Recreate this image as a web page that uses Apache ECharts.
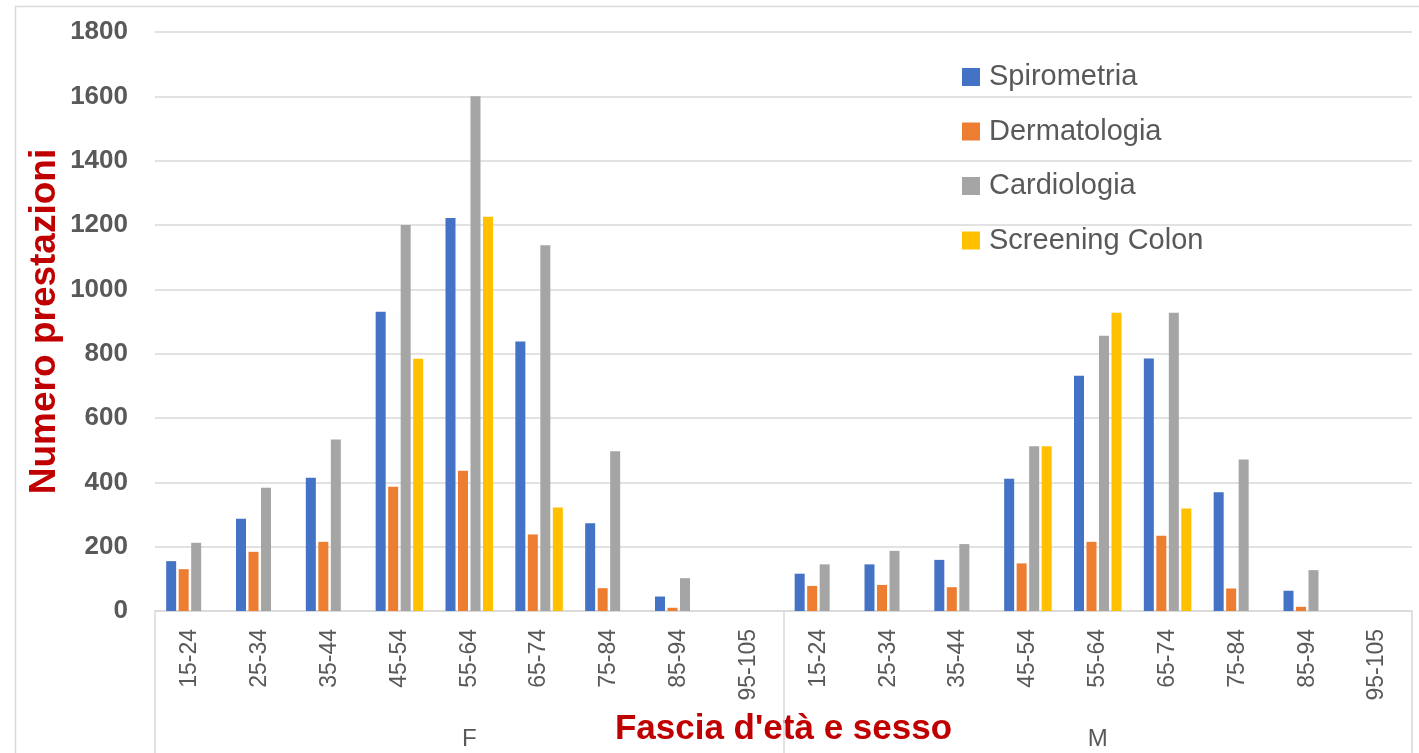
<!DOCTYPE html>
<html>
<head>
<meta charset="utf-8">
<script src="https://cdn.jsdelivr.net/npm/echarts@6/dist/echarts.min.js"></script>
<style>html,body{margin:0;padding:0;background:#fff;}#chart{width:1419px;height:753px;}</style>
</head>
<body>
<div id="chart"></div>
<script>
const ageLabels = ['15-24','25-34','35-44','45-54','55-64','65-74','75-84','85-94','95-105'];
const sexGroups = ['F','M'];
const categories = sexGroups.flatMap(() => ageLabels);
const yTicks = {min: 0, max: 1800, interval: 200};

const spirometria   = [155, 287, 414, 930, 1222, 838, 273, 45, 0,   116, 145, 159, 411, 731, 785, 369, 63, 0];
const dermatologia  = [130, 184, 215, 386, 436, 238, 71, 10, 0,     78, 81, 74, 148, 215, 234, 70, 13, 0];
const cardiologia   = [212, 383, 533, 1200, 1600, 1137, 497, 102, 0, 145, 187, 208, 512, 856, 927, 471, 127, 0];
const screeningColon= [0, 0, 0, 784, 1226, 322, 0, 0, 0,           0, 0, 0, 512, 927, 319, 0, 0, 0];

const seriesNames = ['Spirometria','Dermatologia','Cardiologia','Screening Colon'];
const seriesData = [spirometria, dermatologia, cardiologia, screeningColon];
const colors = ['#4472C4','#ED7D31','#A5A5A5','#FFC000'];

const chart = echarts.init(document.getElementById('chart'), null, {renderer: 'canvas'});
chart.setOption({
  animation: false,
  backgroundColor: '#fff',
  color: colors,
  graphic: [{
    type: 'rect', silent: true,
    shape: {x: 15.5, y: 6.5, width: 1420, height: 760},
    style: {fill: 'none', stroke: '#d9d9d9', lineWidth: 1.5}
  }],
  grid: {left: 155, right: 7, top: 32, bottom: 142, containLabel: false},
  legend: {
    orient: 'vertical', left: 957, top: 57,
    itemWidth: 18, itemHeight: 18, itemGap: 24.5,
    icon: 'rect',
    textStyle: {fontFamily: 'Liberation Sans', fontSize: 29, color: '#595959', lineHeight: 30, padding: [0,0,0,4]},
    data: seriesNames
  },
  xAxis: [{
    type: 'category', data: categories, position: 'bottom',
    axisLine: {show: true, lineStyle: {color: '#d9d9d9', width: 1.5}},
    axisTick: {show: false},
    axisLabel: {interval: 0, rotate: 90, margin: 18, fontFamily: 'Liberation Sans', fontSize: 23, color: '#595959'},
    name: "Fascia d'età e sesso", nameLocation: 'middle', nameGap: 101, nameMoveOverlap: false,
    nameTextStyle: {fontFamily: 'Liberation Sans', fontWeight: 'bold', fontSize: 35, color: '#C00000'}
  }, {
    type: 'category', data: sexGroups, position: 'bottom',
    axisLine: {show: false},
    axisTick: {show: true, length: 142, interval: 0, lineStyle: {color: '#d9d9d9', width: 1.5}},
    axisLabel: {interval: 0, margin: 116, fontFamily: 'Liberation Sans', fontSize: 24, color: '#595959'},
    splitLine: {show: false}
  }],
  yAxis: {
    type: 'value', min: yTicks.min, max: yTicks.max, interval: yTicks.interval,
    axisLine: {show: false}, axisTick: {show: false},
    axisLabel: {margin: 27, fontFamily: 'Liberation Sans', fontWeight: 'bold', fontSize: 26, color: '#595959',
      formatter: v => String(v)},
    splitLine: {lineStyle: {color: '#d9d9d9', width: 1.5}},
    name: 'Numero prestazioni', nameLocation: 'middle', nameGap: 92, nameMoveOverlap: false,
    nameTextStyle: {fontFamily: 'Liberation Sans', fontWeight: 'bold', fontSize: 37, color: '#C00000'}
  },
  series: seriesNames.map((n, i) => ({
    name: n, type: 'bar', xAxisIndex: 0, data: seriesData[i],
    barWidth: 10, barGap: '25%',
    itemStyle: {color: colors[i]}
  }))
});
</script>
</body>
</html>
